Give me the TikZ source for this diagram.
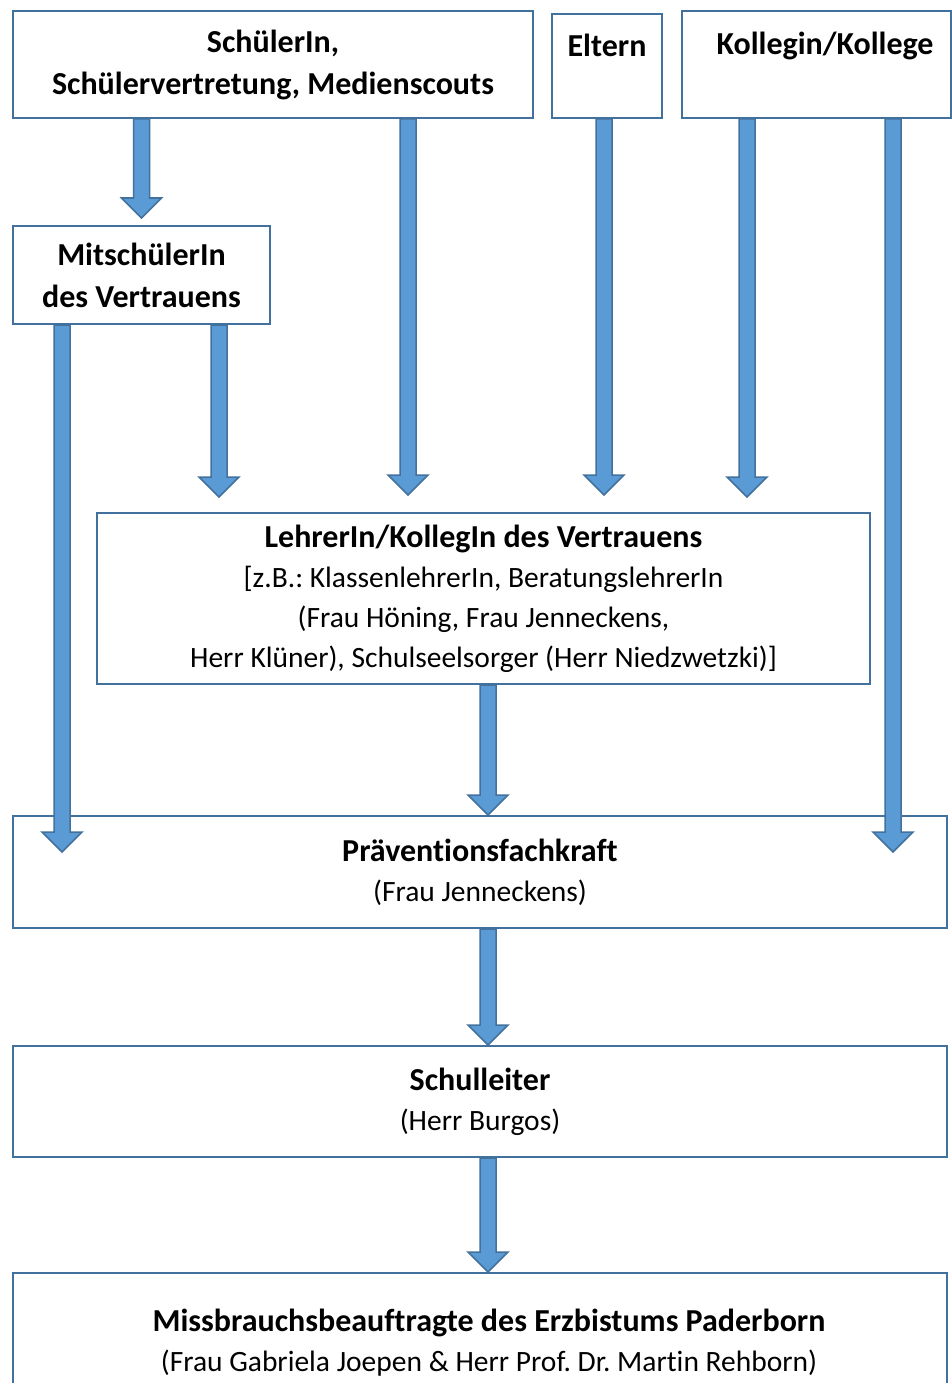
\documentclass[tikz,border=0pt]{standalone}
\usepackage{fontspec}
\setmainfont{Carlito}[Ligatures=NoCommon]
\frenchspacing
\usetikzlibrary{calc}
\definecolor{pfeilblau}{HTML}{5B9BD5}
\definecolor{randblau}{HTML}{41719C}
\newcommand\fett[1]{{\fontsize{32}{40}\selectfont\bfseries #1}}
\tikzset{
  kasten/.style={draw=randblau, line width=2pt, fill=white, align=center,
    inner sep=0pt, anchor=north west, font=\fontsize{29.5}{40}\selectfont},
  kopf/.style={kasten, font=\fontsize{32}{42}\selectfont\bfseries},
  pfeil/.style={fill=pfeilblau, draw=randblau, line width=1.5pt, line join=miter}
}
\newcommand\blockpfeil[2]{%
  \filldraw[pfeil] let \p1=#1, \p2=#2 in
    (\x1-8pt,\y1) -- (\x1-8pt,\y2+20pt) -- (\x1-20pt,\y2+20pt) -- (\x1,\y2)
    -- (\x1+20pt,\y2+20pt) -- (\x1+8pt,\y2+20pt) -- (\x1+8pt,\y1) -- cycle;}

\begin{document}
\begin{tikzpicture}[x=1pt,y=-1pt]
\useasboundingbox (0,0) rectangle (951,1383);
% boxes
\node[kopf, minimum width=520pt, minimum height=107pt] (schueler) at (12,10)
  {SchülerIn,\\Schülervertretung, Medienscouts};
\node[kopf, minimum width=110pt, minimum height=104pt] (eltern) at (551,13) {Eltern\\\mbox{}};
\node[kopf, minimum width=269pt, minimum height=107pt] (kollege) at (681,10) {\hspace*{17pt}Kollegin/Kollege\\\mbox{}};
\node[kopf, minimum width=257pt, minimum height=98pt] (mitschueler) at (12,225)
  {MitschülerIn\\des Vertrauens};
\node[kasten, minimum width=773pt, minimum height=171pt] (lehrer) at (96,512)
  {\fett{LehrerIn/KollegIn des Vertrauens}\\{[}z.B.: KlassenlehrerIn, BeratungslehrerIn\\
   (Frau Höning, Frau Jenneckens,\\Herr Klüner), Schulseelsorger (Herr Niedzwetzki)]};
\node[kasten, minimum width=934pt, minimum height=112pt] (praevention) at (12,815)
  {\fett{Präventionsfachkraft}\\(Frau Jenneckens)};
\node[kasten, minimum width=934pt, minimum height=111pt] (schulleiter) at (12,1045)
  {\fett{Schulleiter}\\(Herr Burgos)};
\node[kasten, minimum width=934pt, minimum height=140pt] (missbrauch) at (12,1272)
  {\hspace*{18pt}\fett{Missbrauchsbeauftragte des Erzbistums Paderborn}\\\hspace*{18pt}(Frau Gabriela Joepen \& Herr Prof. Dr. Martin Rehborn)};
% x positions of the arrows
\coordinate (p2) at (62,0);
\coordinate (p3) at (219,0);
\coordinate (p4) at (408,0);
\coordinate (p5) at (604,0);
\coordinate (p6) at (747,0);
\coordinate (p7) at (893,0);
\coordinate (p8) at (488,0);
% arrows
\blockpfeil{(schueler.south -| mitschueler.north)}{([yshift=7pt]mitschueler.north)}
\blockpfeil{(mitschueler.south -| p2)}{([yshift=-37pt]praevention.north -| p2)}
\blockpfeil{(mitschueler.south -| p3)}{([yshift=15pt]lehrer.north -| p3)}
\blockpfeil{(schueler.south -| p4)}{([yshift=17pt]lehrer.north -| p4)}
\blockpfeil{(eltern.south -| p5)}{([yshift=17pt]lehrer.north -| p5)}
\blockpfeil{(kollege.south -| p6)}{([yshift=15pt]lehrer.north -| p6)}
\blockpfeil{(kollege.south -| p7)}{([yshift=-37pt]praevention.north -| p7)}
\blockpfeil{(lehrer.south -| p8)}{(praevention.north -| p8)}
\blockpfeil{(praevention.south -| p8)}{(schulleiter.north -| p8)}
\blockpfeil{(schulleiter.south -| p8)}{(missbrauch.north -| p8)}
\end{tikzpicture}
\end{document}
